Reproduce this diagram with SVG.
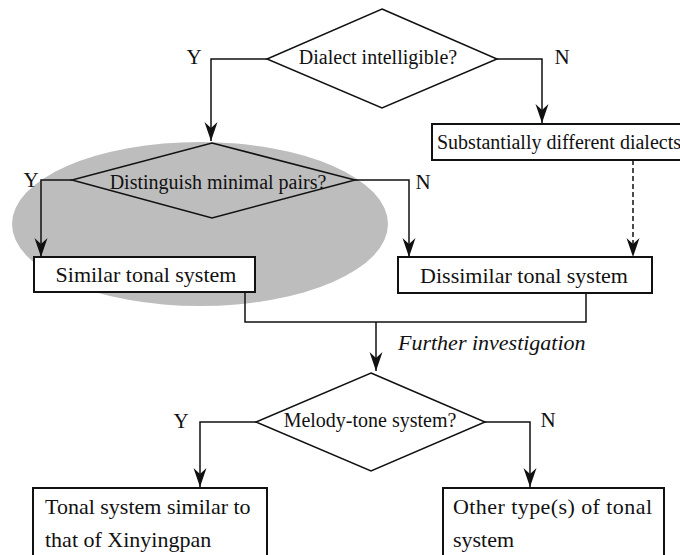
<svg xmlns="http://www.w3.org/2000/svg" width="680" height="555" viewBox="0 0 680 555">
<style>
text{font-family:"Liberation Serif","Times New Roman",serif;fill:#111}
.d{fill:none;stroke:#111;stroke-width:1.5}
.b{fill:#fff;stroke:#111;stroke-width:2}
.c{fill:none;stroke:#111;stroke-width:1.5}
.q{font-size:20px}
.t{font-size:22px}
.l{font-size:21px}
</style>
<defs>
<marker id="ah" markerUnits="userSpaceOnUse" markerWidth="24" markerHeight="16" refX="0" refY="0" viewBox="-20 -8 22 16" orient="auto">
<path d="M0,0 L-19,-6.5 L-13,0 L-19,6.5 Z" fill="#111"/>
</marker>
</defs>
<ellipse cx="200" cy="224" rx="188" ry="82" fill="#bdbdbd"/>
<g id="connectors">
<polyline class="c" points="267,59 211,59 211,141" marker-end="url(#ah)"/>
<polyline class="c" points="497,59 542,59 542,123" marker-end="url(#ah)"/>
<polyline class="c" points="72,180 41,180 41,257" marker-end="url(#ah)"/>
<polyline class="c" points="355,180 409,180 409,257" marker-end="url(#ah)"/>
<line class="c" x1="633" y1="160" x2="633" y2="257" stroke-dasharray="5,3" marker-end="url(#ah)"/>
<polyline class="c" points="245,292 245,322 586,322 586,293"/>
<line class="c" x1="376" y1="322" x2="376" y2="371" marker-end="url(#ah)"/>
<polyline class="c" points="256,422 200,422 200,487" marker-end="url(#ah)"/>
<polyline class="c" points="485,422 530,422 530,487" marker-end="url(#ah)"/>
<text x="194" y="64" class="l" text-anchor="middle">Y</text>
<text x="562" y="64" class="l" text-anchor="middle">N</text>
<text x="31" y="187" class="l" text-anchor="middle">Y</text>
<text x="423" y="189" class="l" text-anchor="middle">N</text>
<text x="398" y="350" class="t" font-style="italic">Further investigation</text>
<text x="181" y="428" class="l" text-anchor="middle">Y</text>
<text x="548" y="427" class="l" text-anchor="middle">N</text>
</g>
<g id="q1">
<polygon class="d" points="382,9 497,59 382,108 267,59"/>
<text x="378" y="64" class="q" text-anchor="middle">Dialect intelligible?</text>
</g>
<g id="diff">
<rect class="b" x="432" y="124" width="260" height="36"/>
<text x="437" y="149" class="q">Substantially different dialects</text>
</g>
<g id="q2">
<polygon class="d" points="212,143 355,180 212,218 72,180"/>
<text x="218" y="189" class="q" text-anchor="middle">Distinguish minimal pairs?</text>
</g>
<g id="similar">
<rect class="b" x="34" y="257" width="221" height="35"/>
<text x="146" y="282" class="t" text-anchor="middle">Similar tonal system</text>
</g>
<g id="dissimilar">
<rect class="b" x="398" y="257" width="254" height="36"/>
<text x="524" y="283" class="t" text-anchor="middle">Dissimilar tonal system</text>
</g>
<g id="q3">
<polygon class="d" points="371,373 485,422 371,471 256,422"/>
<text x="370" y="427" class="q" text-anchor="middle">Melody-tone system?</text>
</g>
<g id="xinyingpan">
<rect class="b" x="33" y="488" width="234" height="80"/>
<text x="45" y="514" class="t">Tonal system similar to</text>
<text x="45" y="547" class="t">that of Xinyingpan</text>
</g>
<g id="other">
<rect class="b" x="443" y="488" width="221" height="80"/>
<text x="453" y="514" class="t" textLength="199" lengthAdjust="spacing">Other type(s) of tonal</text>
<text x="453" y="547" class="t">system</text>
</g>
</svg>
